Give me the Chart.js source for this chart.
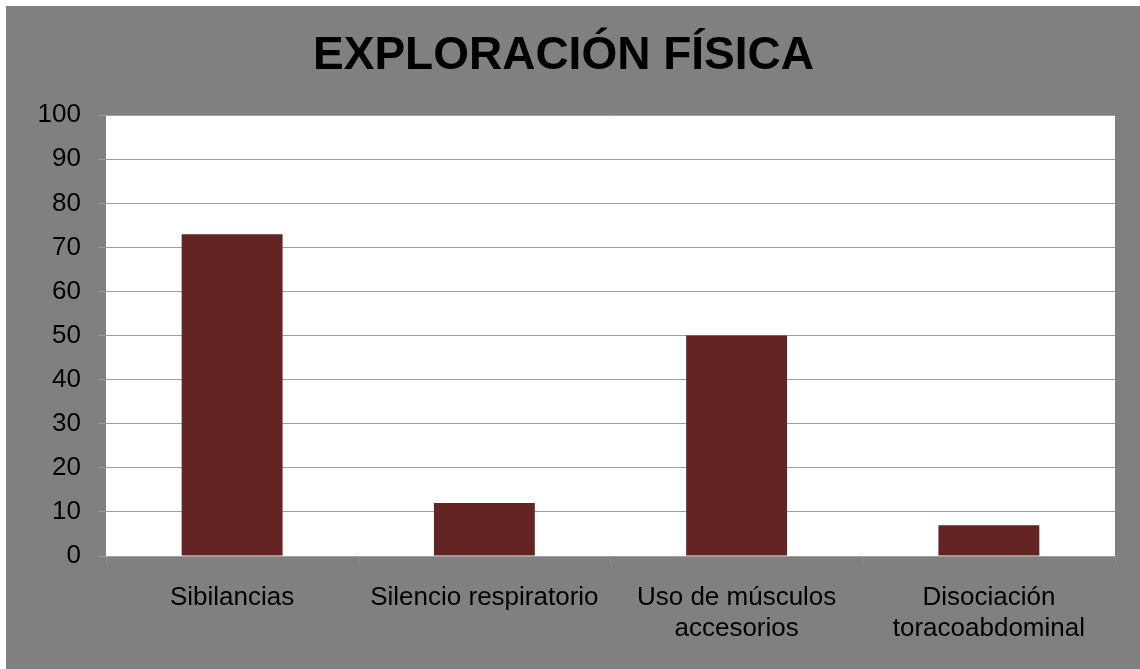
<!DOCTYPE html>
<html>
<head>
<meta charset="utf-8">
<script src="https://cdn.jsdelivr.net/npm/chart.js@4"></script>
<style>
  html, body { margin: 0; padding: 0; background: #fff; }
  #wrap { position: absolute; left: 6px; top: 6px; width: 1134px; height: 663px; }
</style>
</head>
<body>
<div id="wrap"><canvas id="c" width="1134" height="663"></canvas></div>
<script>
/* данные графика */
const title = 'EXPLORACIÓN FÍSICA';
const categories = [
  'Sibilancias',
  'Silencio respiratorio',
  ['Uso de músculos', 'accesorios'],
  ['Disociación', 'toracoabdominal']
];
const values = [73, 12, 50, 7];
const yMin = 0, yMax = 100, yStep = 10;

const FONT = "'Liberation Sans', Arial, sans-serif";

/* фон: серый холст + белая область построения */
const bgPlugin = {
  id: 'bg',
  beforeDraw(chart) {
    const { ctx, chartArea: a, width, height } = chart;
    ctx.save();
    ctx.fillStyle = '#808080';
    ctx.fillRect(0, 0, width, height);
    ctx.fillStyle = '#ffffff';
    ctx.fillRect(a.left, a.top, a.right - a.left, a.bottom - a.top);
    ctx.restore();
  }
};

new Chart(document.getElementById('c').getContext('2d'), {
  type: 'bar',
  data: {
    labels: categories,
    datasets: [{
      data: values,
      backgroundColor: '#632423',
      borderWidth: 0,
      barPercentage: 0.4,
      categoryPercentage: 1
    }]
  },
  plugins: [bgPlugin],
  options: {
    responsive: false,
    animation: false,
    // слева узкий отступ, ось Y шире — так заголовок смещается как в оригинале
    layout: { padding: { left: 6, right: 25, top: 0, bottom: 0 } },
    plugins: {
      legend: { display: false },
      tooltip: { enabled: false },
      title: {
        display: true,
        text: title,
        color: '#000',
        font: { family: FONT, size: 46, weight: 'bold' },
        padding: { top: 23, bottom: 31 }
      }
    },
    scales: {
      x: {
        grid: {
          offset: true,
          drawOnChartArea: false,
          drawTicks: true,
          tickLength: 8,
          tickColor: '#8e8e8e'
        },
        border: { display: false },
        ticks: {
          color: '#000',
          font: { family: FONT, size: 26 },
          padding: 18,
          maxRotation: 0,
          autoSkip: false
        },
        afterFit(s) { s.height = 113; }
      },
      y: {
        min: yMin,
        max: yMax,
        grid: {
          color: '#a0a0a0',
          tickColor: '#999999',
          tickLength: 8
        },
        border: { display: false },
        ticks: {
          stepSize: yStep,
          color: '#000',
          font: { family: FONT, size: 26 },
          padding: 17
        },
        afterFit(s) { s.width = 94; }
      }
    }
  }
});
</script>
</body>
</html>
